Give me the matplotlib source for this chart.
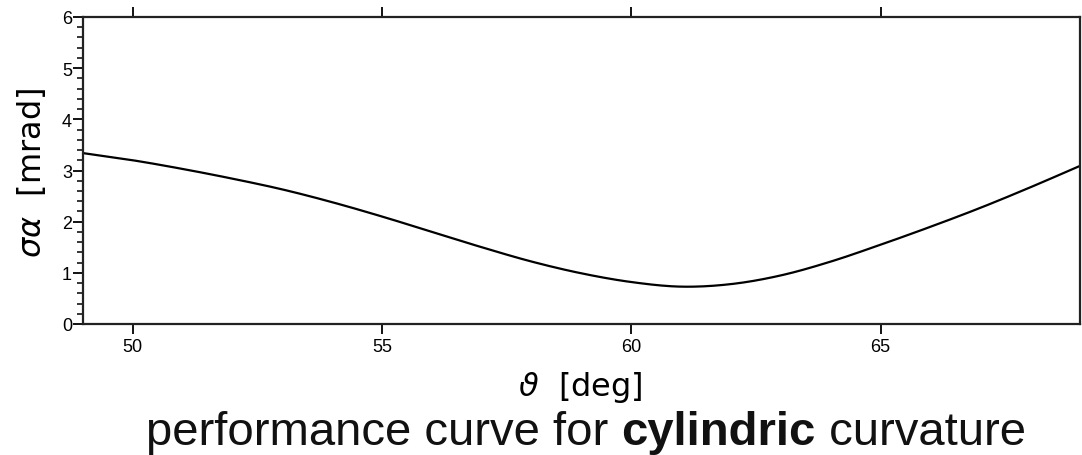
import matplotlib
matplotlib.use("Agg")
import matplotlib.pyplot as plt
import numpy as np
from matplotlib.ticker import MultipleLocator

theta = [49, 50, 51, 52, 53, 54, 55, 56, 57, 58, 59, 60, 61, 62, 63, 64, 65, 66, 67, 68, 69]
sigma = [3.34, 3.20, 3.03, 2.84, 2.63, 2.38, 2.10, 1.80, 1.50, 1.22, 0.99, 0.82, 0.73, 0.78, 0.95, 1.22, 1.55, 1.90, 2.27, 2.67, 3.09]
xticks = [50, 55, 60, 65]
yticks = [0, 1, 2, 3, 4, 5, 6]

fig = plt.figure(figsize=(10.82, 4.56), dpi=100)
ax = fig.add_axes([83/1082, 131/456, 997/1082, 307/456])

def catmull(x, y, n=20):
    x = np.asarray(x, float); y = np.asarray(y, float)
    px = np.concatenate([[2*x[0]-x[1]], x, [2*x[-1]-x[-2]]])
    py = np.concatenate([[2*y[0]-y[1]], y, [2*y[-1]-y[-2]]])
    outx, outy = [], []
    for i in range(1, len(px)-2):
        t = np.linspace(0, 1, n, endpoint=False)
        for arr, out in ((px, outx), (py, outy)):
            p0, p1, p2, p3 = arr[i-1], arr[i], arr[i+1], arr[i+2]
            out.extend(0.5*((2*p1) + (-p0+p2)*t + (2*p0-5*p1+4*p2-p3)*t**2 + (-p0+3*p1-3*p2+p3)*t**3))
    outx.append(x[-1]); outy.append(y[-1])
    return outx, outy

cx, cy = catmull(theta, sigma)
ax.plot(cx, cy, color='black', lw=1.6, solid_capstyle='butt')

ax.set_xlim(49, 69)
ax.set_ylim(0, 6)
ax.set_xticks(xticks)
ax.set_yticks(yticks)
ax.yaxis.set_minor_locator(MultipleLocator(0.2))
for s in ax.spines.values():
    s.set_linewidth(1.6)
    s.set_color('#222222')

ax.tick_params(axis='x', which='major', direction='out', length=7, width=1.3,
               top=True, bottom=True, labelsize=13, pad=3)
ax.tick_params(axis='y', which='major', direction='out', length=7, width=1.3,
               left=True, right=False, labelsize=13, pad=1)
ax.tick_params(axis='y', which='minor', direction='out', length=4, width=1.1, left=True, right=False)
for lab in ax.get_xticklabels() + ax.get_yticklabels():
    lab.set_fontfamily('Liberation Sans')

fig.text(32/1082, 1 - 173/456, r'$\sigma\alpha$  [mrad]', fontsize=23, rotation=90,
         ha='center', va='center')
fig.text(580/1082, 1 - 388/456, r'$\vartheta$  [deg]', fontsize=23, ha='center', va='center')

# title with bold word
fig.canvas.draw()
r = fig.canvas.get_renderer()
parts = [('performance curve for ', 'normal'), ('cylindric', 'bold'), (' curvature', 'normal')]
fs = 34
texts = []
widths = []
for s, w in parts:
    t = fig.text(0, 0, s, fontsize=fs, fontfamily='Liberation Sans', fontweight=w, va='baseline', color='#111111')
    texts.append(t)
    widths.append(t.get_window_extent(r).width)
total = sum(widths)
x0 = 586 - total/2
ybase = 1 - 445/456
for t, wd in zip(texts, widths):
    t.set_position((x0/1082, ybase))
    x0 += wd

fig.savefig('out.png', dpi=100)
